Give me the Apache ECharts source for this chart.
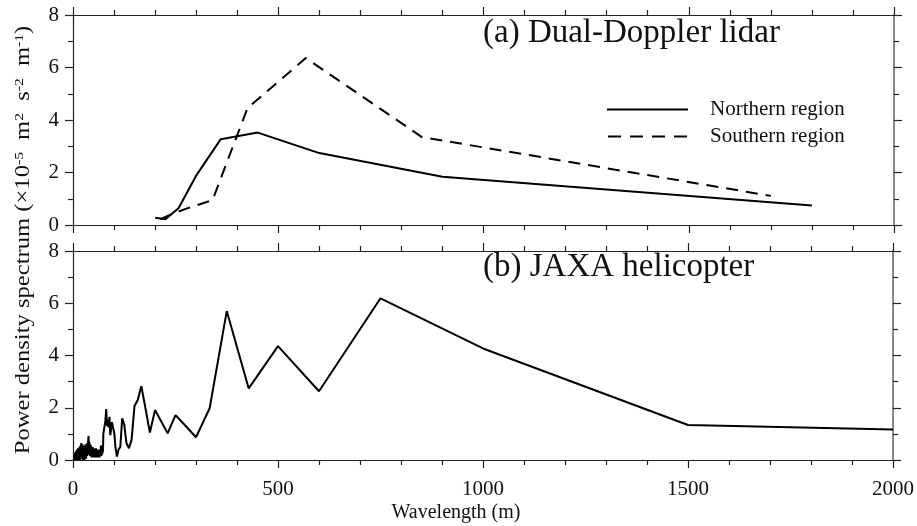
<!DOCTYPE html>
<html>
<head>
<meta charset="utf-8">
<script src="https://cdn.jsdelivr.net/npm/echarts@6/dist/echarts.min.js"></script>
<style>html,body{margin:0;padding:0;background:#fff}#c{width:917px;height:526px}</style>
</head>
<body>
<div id="c"></div>
<script>
// ---- data ----
var xTicks = [0, 500, 1000, 1500, 2000];
var yTicks = [0, 2, 4, 6, 8];
var northernX = [200, 225, 257, 300, 360, 450, 600, 900, 1800];
var northernY = [0.28, 0.22, 0.64, 1.88, 3.27, 3.52, 2.74, 1.84, 0.74];
var southernX = [212.5, 243, 283, 340, 425, 567, 850, 1700];
var southernY = [0.22, 0.43, 0.66, 0.95, 4.45, 6.36, 3.35, 1.11];
var heliX = [3, 4, 5, 6, 7, 8, 9, 10, 11, 12, 13, 14, 15, 16, 17, 18, 19, 20, 21, 22, 23, 24, 25, 26, 27, 28, 29, 30, 31, 32, 33, 34, 35, 36, 37, 38, 39, 40, 41, 42, 43, 44, 45, 46, 47, 48, 49, 50, 51, 52, 53, 54, 55, 56, 57, 58, 59, 60, 61, 62, 63, 64, 65, 66, 67, 68, 69, 70, 71, 72, 73, 74,
  75, 77, 79, 81, 83, 85, 87, 89, 91, 93, 95, 97, 99, 101, 103.4, 107.1, 111.1, 115.4, 120, 125, 130.4, 136.4, 142.9, 150, 157.9, 166.7, 176.5, 187.5, 200, 214.3, 230.8, 250, 272.7, 300, 333.3, 375, 428.6, 500, 600, 750, 1000, 1500, 2000];
var heliY = [0.0, 0.25, 0.0, 0.3, 0.05, 0.35, 0.0, 0.4, 0.05, 0.45, 0.0, 0.4, 0.1, 0.5, 0.0, 0.55, 0.1, 0.65, 0.72, 0.05, 0.6, 0.0, 0.55, 0.1, 0.5, 0.0, 0.55, 0.1, 0.6, 0.05, 0.55, 0.15, 0.65, 0.2, 0.75, 0.92, 0.2, 0.7, 0.15, 0.6, 0.2, 0.55, 0.1, 0.5, 0.15, 0.5, 0.1, 0.45, 0.15, 0.45, 0.1, 0.4, 0.15, 0.45, 0.1, 0.4, 0.15, 0.35, 0.1, 0.4, 0.15, 0.35, 0.1, 0.4, 0.15, 0.55, 0.15, 0.55, 0.2, 0.5, 0.3, 1.0,
  0.95, 1.0, 1.5, 1.95, 1.3, 1.55, 1.25, 1.65, 0.95, 1.0, 1.45, 1.4, 1.45, 1.0, 0.5, 0.13, 0.4, 0.5, 1.6, 1.35, 0.65, 0.45, 0.77, 2.07, 2.3, 2.83, 2.0, 1.05, 1.91, 1.5, 1.02, 1.72, 1.34, 0.87, 1.98, 5.70, 2.74, 4.36, 2.63, 6.19, 4.27, 1.34, 1.17];
var seriesNames = ['Northern region', 'Southern region', 'JAXA helicopter'];
var panelTitles = ['(a) Dual-Doppler lidar', '(b) JAXA helicopter'];
var xName = 'Wavelength (m)';

function pairs(xs, ys) { return xs.map(function (x, i) { return [x, ys[i]]; }); }

var FONT = "'Liberation Serif','Times New Roman',serif";
var chart = echarts.init(document.getElementById('c'), null, {renderer: 'canvas'});

function xAxisDef(grid, pos, labels) {
  return {
    type: 'value', gridIndex: grid, position: pos,
    min: xTicks[0], max: xTicks[xTicks.length - 1], interval: xTicks[1] - xTicks[0],
    axisLine: {show: true, onZero: false, lineStyle: {color: '#222', width: 1.2}},
    axisTick: {show: true, inside: false, length: 8, lineStyle: {color: '#222', width: 1.2}},
    minorTick: {show: true, splitNumber: 5, length: 5, lineStyle: {color: '#222', width: 1.2}},
    splitLine: {show: false},
    axisLabel: {show: labels, margin: 19, color: '#111', fontFamily: FONT, fontSize: 21,
      formatter: function (v) { return String(v); }}
  };
}
function yAxisDef(grid, pos, labels) {
  var col = pos === 'right' ? '#888' : '#222';
  return {
    type: 'value', gridIndex: grid, position: pos,
    min: yTicks[0], max: yTicks[yTicks.length - 1], interval: yTicks[1] - yTicks[0],
    axisLine: {show: true, onZero: false, lineStyle: {color: col, width: pos === 'right' ? 2 : 1.2}},
    axisTick: {show: true, inside: false, length: 8, lineStyle: {color: '#222', width: 1.2}},
    minorTick: {show: true, splitNumber: 2, length: 5, lineStyle: {color: '#222', width: 1.2}},
    splitLine: {show: false},
    axisLabel: {show: labels, margin: 14, color: '#111', fontFamily: FONT, fontSize: 21}
  };
}

var option = {
  backgroundColor: '#fff',
  animation: false,
  grid: [
    {left: 73, right: 23, top: 15, height: 210},
    {left: 73, right: 23, top: 251, height: 209}
  ],
  xAxis: [xAxisDef(0, 'bottom', false), xAxisDef(0, 'top', false), xAxisDef(1, 'bottom', true), xAxisDef(1, 'top', false)],
  yAxis: [yAxisDef(0, 'left', true), yAxisDef(0, 'right', false), yAxisDef(1, 'left', true), yAxisDef(1, 'right', false)],
  legend: {
    data: [
      {name: seriesNames[0], icon: 'path://M0,0H81V2H0Z'},
      {name: seriesNames[1], icon: 'path://M0,0H13V2H0Z M22,0H35V2H22Z M44,0H57V2H44Z M66,0H79V2H66Z'}
    ],
    orient: 'vertical', left: 602, top: 94,
    itemWidth: 81, itemHeight: 2, itemGap: 6,
    itemStyle: {color: '#000', borderWidth: 0},
    textStyle: {color: '#111', fontFamily: FONT, fontSize: 21, lineHeight: 21, padding: [0, 0, 0, 17]}
  },
  graphic: [
    {type: 'text', left: 483, top: 17, style: {text: panelTitles[0], font: '33px ' + FONT, fill: '#111'}},
    {type: 'text', left: 483, top: 251, style: {text: panelTitles[1], font: '33px ' + FONT, fill: '#111'}},
    {type: 'text', x: 456, y: 513, style: {text: xName, font: '20px ' + FONT, fill: '#111', align: 'center', verticalAlign: 'middle'}},
    {type: 'text', x: 24, y: 240, rotation: Math.PI / 2, scaleX: 1.2, scaleY: 1,
      style: {
        text: '{n|Power density spectrum (×10}{sp|-5}{n| m}{sp|2}{n| s}{sp|-2}{n| m}{s|-1}{n|)}',
        align: 'center', verticalAlign: 'middle', fill: '#111',
        rich: {
          n: {fontFamily: FONT, fontSize: 20.5, lineHeight: 22, fill: '#111'},
          s: {fontFamily: FONT, fontSize: 13, lineHeight: 13, verticalAlign: 'top', fill: '#111'},
          sp: {fontFamily: FONT, fontSize: 13, lineHeight: 13, verticalAlign: 'top', fill: '#111', padding: [0, 5, 0, 0]}
        }
      }
    }
  ],
  series: [
    {name: seriesNames[0], type: 'line', xAxisIndex: 0, yAxisIndex: 0, data: pairs(northernX, northernY),
      symbol: 'none', lineStyle: {color: '#000', width: 2}, itemStyle: {color: '#000'}},
    {name: seriesNames[1], type: 'line', xAxisIndex: 0, yAxisIndex: 0, data: pairs(southernX, southernY),
      symbol: 'none', lineStyle: {color: '#000', width: 2, type: [12, 8]}, itemStyle: {color: '#000'}},
    {name: seriesNames[2], type: 'line', xAxisIndex: 2, yAxisIndex: 2, data: pairs(heliX, heliY),
      symbol: 'none', lineStyle: {color: '#000', width: 2}, itemStyle: {color: '#000'}}
  ]
};
chart.setOption(option);
</script>
</body>
</html>
